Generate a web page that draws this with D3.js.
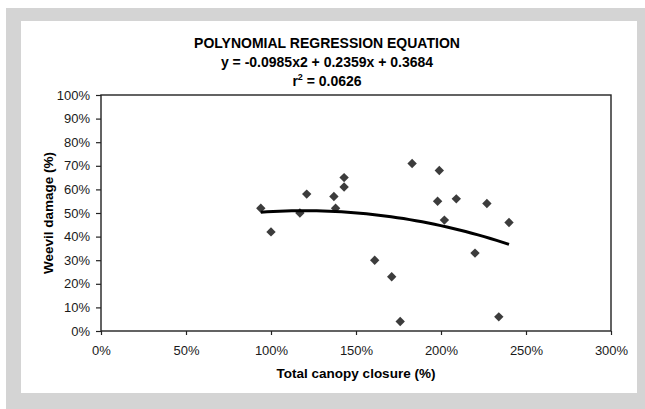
<!DOCTYPE html>
<html>
<head>
  <meta charset="utf-8">
  <title>Weevil damage vs canopy closure</title>
  <style>
    html, body {
      margin: 0;
      padding: 0;
      background: #fff;
      font-family: "Liberation Sans", Arial, sans-serif;
    }
    svg { display: block; }
    .tick text { fill: #1a1a1a; font-size: 13px; }
    .title { font-weight: bold; font-size: 14px; fill: #000; }
    .axis-title { font-weight: bold; font-size: 13.5px; fill: #000; }
  </style>
</head>
<body>
  <svg id="chart" width="645" height="409"></svg>

  <script src="https://d3js.org/d3.v7.min.js"></script>
  <script>
    // canopy closure (fraction) and weevil damage (fraction)
    const canopy = [0.94, 1.00, 1.17, 1.21, 1.37, 1.38, 1.43, 1.43, 1.61, 1.71,
                    1.76, 1.83, 1.99, 1.98, 2.02, 2.09, 2.20, 2.27, 2.34, 2.40];
    const damage = [0.52, 0.42, 0.50, 0.58, 0.57, 0.52, 0.65, 0.61, 0.30, 0.23,
                    0.04, 0.71, 0.68, 0.55, 0.47, 0.56, 0.33, 0.54, 0.06, 0.46];
    // y = a*x^2 + b*x + c, as printed in the title
    const coeffs = [-0.0985, 0.2359, 0.3684];
    const titleLines = ["POLYNOMIAL REGRESSION EQUATION", "y = -0.0985x2 + 0.2359x + 0.3684"];
    const xTicks = [0, 0.5, 1, 1.5, 2, 2.5, 3];
    const yTicks = [0, 0.1, 0.2, 0.3, 0.4, 0.5, 0.6, 0.7, 0.8, 0.9, 1];

    const svg = d3.select("#chart");

    // frame: grey band with white panel inside
    svg.append("rect").attr("x", 6).attr("y", 8).attr("width", 639).attr("height", 401).attr("fill", "#d4d4d4");
    svg.append("rect").attr("x", 21).attr("y", 21).attr("width", 616).attr("height", 372).attr("fill", "#fff");

    const plot = { left: 101, right: 611, top: 95, bottom: 331 };
    const x = d3.scaleLinear().domain([0, 3]).range([plot.left, plot.right]);
    const y = d3.scaleLinear().domain([0, 1]).range([plot.bottom, plot.top]);
    const pct = d3.format(".0%");

    // title
    const title = svg.append("text").attr("class", "title").attr("text-anchor", "middle");
    title.append("tspan").attr("x", 327).attr("y", 48).text(titleLines[0]);
    title.append("tspan").attr("x", 327).attr("y", 67).text(titleLines[1]);
    const r2 = title.append("tspan").attr("x", 327).attr("y", 86);
    r2.append("tspan").text("r");
    r2.append("tspan").attr("dy", -6).attr("font-size", "9px").text("2");
    r2.append("tspan").attr("dy", 6).text(" = 0.0626");

    // axes
    svg.append("g")
      .attr("transform", `translate(0,${plot.bottom})`)
      .call(d3.axisBottom(x).tickValues(xTicks).tickFormat(pct).tickSize(4).tickPadding(11))
      .call(g => g.select(".domain").remove())
      .call(g => g.selectAll("line").attr("stroke", "#222").attr("stroke-width", 1.2))
      .call(g => g.selectAll("text").attr("font-family", null).attr("font-size", null));

    svg.append("g")
      .attr("transform", `translate(${plot.left},0)`)
      .call(d3.axisLeft(y).tickValues(yTicks).tickFormat(pct).tickSize(5).tickPadding(6))
      .call(g => g.select(".domain").remove())
      .call(g => g.selectAll("line").attr("stroke", "#222").attr("stroke-width", 1.2))
      .call(g => g.selectAll("text").attr("font-family", null).attr("font-size", null));

    // plot border
    svg.append("rect")
      .attr("x", plot.left).attr("y", plot.top)
      .attr("width", plot.right - plot.left).attr("height", plot.bottom - plot.top)
      .attr("fill", "none").attr("stroke", "#222").attr("stroke-width", 1.4);

    // axis titles
    svg.append("text").attr("class", "axis-title").attr("text-anchor", "middle")
      .attr("x", (plot.left + plot.right) / 2).attr("y", 378)
      .text("Total canopy closure (%)");
    svg.append("text").attr("class", "axis-title").attr("text-anchor", "middle")
      .attr("transform", `translate(53,${(plot.top + plot.bottom) / 2}) rotate(-90)`)
      .text("Weevil damage (%)");

    // points
    const pts = canopy.map((c, i) => [c, damage[i]]);
    const diamond = d3.symbol().type(d3.symbolSquare).size(44);
    svg.append("g").selectAll("path")
      .data(pts)
      .enter()
      .append("path")
      .attr("d", diamond)
      .attr("transform", d => `translate(${x(d[0])},${y(d[1])}) rotate(45)`)
      .attr("fill", "#3c3c3c");

    // trend curve from the printed equation
    const poly = v => coeffs[0] * v * v + coeffs[1] * v + coeffs[2];
    const [x0, x1] = d3.extent(canopy);
    const curve = d3.range(0, 41).map(i => x0 + (x1 - x0) * i / 40);
    svg.append("path")
      .datum(curve)
      .attr("fill", "none")
      .attr("stroke", "#000")
      .attr("stroke-width", 3)
      .attr("d", d3.line().x(d => x(d)).y(d => y(poly(d))));
  </script>
</body>
</html>
